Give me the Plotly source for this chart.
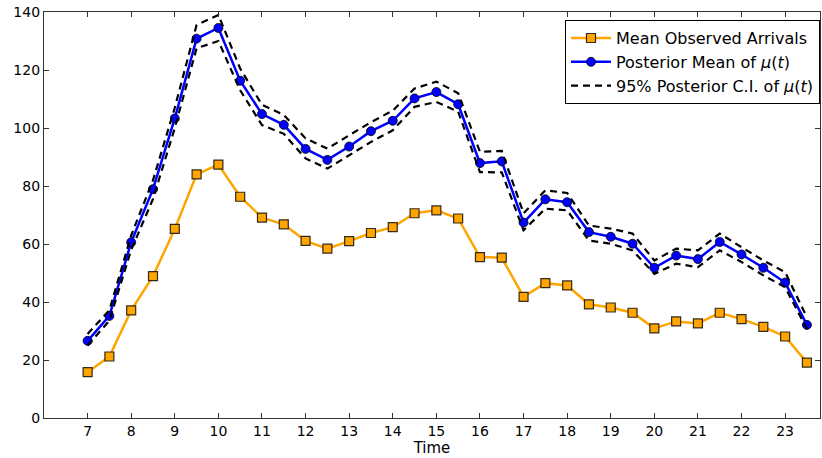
import plotly.graph_objects as go

times = [7 + 0.5 * i for i in range(34)]
observed = [15.8, 21.2, 37.1, 48.9, 65.2, 84.0, 87.4, 76.3, 69.1, 66.8,
            61.1, 58.4, 61.0, 63.8, 65.8, 70.6, 71.6, 68.8, 55.5, 55.3,
            41.8, 46.5, 45.7, 39.2, 38.1, 36.3, 30.9, 33.3, 32.6, 36.3,
            34.1, 31.4, 28.1, 19.1]
post_mean = [26.6, 35.2, 60.6, 78.9, 103.3, 130.8, 134.5, 116.3, 104.8, 101.1,
             92.8, 89.0, 93.6, 98.9, 102.5, 110.2, 112.4, 108.2, 87.9, 88.5,
             67.4, 75.4, 74.4, 64.1, 62.5, 60.1, 51.8, 56.0, 54.8, 60.7,
             56.4, 51.8, 46.7, 32.1]
ci_upper = [29.0, 37.2, 63.0, 82.0, 107.0, 135.5, 139.0, 120.5, 108.0, 104.5,
            96.4, 92.9, 97.5, 102.0, 106.0, 113.6, 116.0, 112.0, 91.8, 92.1,
            70.6, 78.5, 77.6, 66.4, 65.3, 63.6, 54.3, 58.4, 57.8, 63.6,
            58.9, 54.3, 50.3, 34.7]
ci_lower = [25.0, 33.6, 58.0, 75.5, 100.0, 127.5, 130.0, 113.0, 101.0, 98.0,
            89.5, 86.0, 90.6, 95.2, 99.2, 107.3, 109.0, 105.6, 84.8, 84.7,
            64.7, 72.2, 71.6, 61.2, 60.1, 57.8, 49.7, 53.2, 52.0, 57.8,
            53.8, 49.2, 45.1, 30.7]
x_ticks = list(range(7, 24))
y_ticks = list(range(0, 141, 20))

FONT = "DejaVu Sans"
fig = go.Figure()

fig.add_trace(go.Scatter(
    x=times, y=observed, mode="lines+markers", name="Mean Observed Arrivals",
    line=dict(color="#FFA500", width=2.5),
    marker=dict(symbol="square", size=9, color="#FFA500",
                line=dict(color="rgba(0,0,0,0.8)", width=1.2)),
))
fig.add_trace(go.Scatter(
    x=times, y=post_mean, mode="lines+markers",
    name="Posterior Mean of <i>μ</i>(<i>t</i>)",
    line=dict(color="#0000FF", width=2.5),
    marker=dict(symbol="circle", size=9, color="#0000FF",
                line=dict(color="rgba(0,0,0,0.8)", width=1)),
))
fig.add_trace(go.Scatter(
    x=times, y=ci_upper, mode="lines",
    name="95% Posterior C.I. of <i>μ</i>(<i>t</i>)",
    line=dict(color="black", width=2.2, dash="7px,5px"),
))
fig.add_trace(go.Scatter(
    x=times, y=ci_lower, mode="lines", showlegend=False,
    line=dict(color="black", width=2.2, dash="7px,5px"),
))

axis_common = dict(
    showgrid=False, zeroline=False, showline=True, linecolor="#333333",
    linewidth=1.2, mirror="ticks", ticks="inside", ticklen=5,
    tickcolor="#333333", tickwidth=1,
    tickfont=dict(family=FONT, size=14, color="black"),
)

fig.update_xaxes(range=[6.0, 23.8], tickvals=x_ticks,
                 ticktext=[str(t) for t in x_ticks],
                 title=dict(text="Time", font=dict(family=FONT, size=15, color="black"),
                            standoff=0),
                 **axis_common)
fig.update_yaxes(range=[0, 140], tickvals=y_ticks,
                 ticktext=[str(t) for t in y_ticks], **axis_common)

fig.update_layout(
    width=822, height=458,
    margin=dict(l=44, r=2, t=12, b=40),
    paper_bgcolor="white", plot_bgcolor="white",
    font=dict(family=FONT, size=14, color="black"),
    legend=dict(x=1, xanchor="right", y=0.98, yanchor="top",
                bgcolor="white", bordercolor="black", borderwidth=1,
                font=dict(family=FONT, size=16, color="black"),
                itemwidth=40, tracegroupgap=0),
    showlegend=True,
)

fig.write_html("out.html")
